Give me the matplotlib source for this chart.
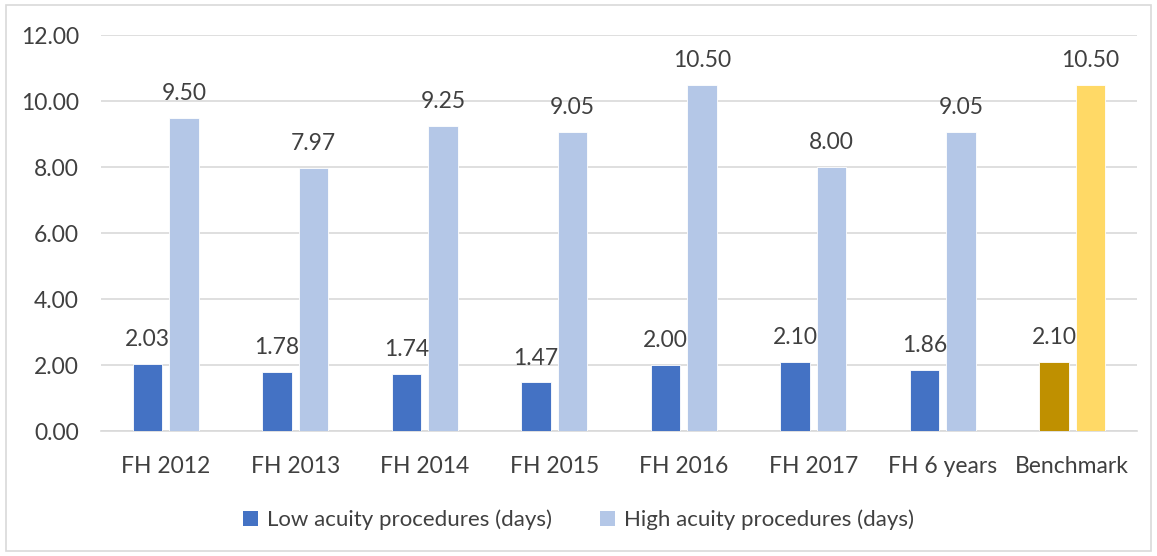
import matplotlib
matplotlib.use("Agg")
import matplotlib.pyplot as plt
import numpy as np
from matplotlib.patches import Rectangle, Patch

categories = ["FH 2012", "FH 2013", "FH 2014", "FH 2015", "FH 2016", "FH 2017", "FH 6 years", "Benchmark"]
low_acuity = [2.03, 1.78, 1.74, 1.47, 2.00, 2.10, 1.86, 2.10]
high_acuity = [9.50, 7.97, 9.25, 9.05, 10.50, 8.00, 9.05, 10.50]
series_names = ["Low acuity procedures (days)", "High acuity procedures (days)"]
yticks = [0, 2, 4, 6, 8, 10, 12]

plt.rcParams['font.family'] = ['Lato', 'DejaVu Sans']
txt = '#404040'

low_colors = ['#4472C4'] * 7 + ['#BF9000']
high_colors = ['#B4C7E7'] * 7 + ['#FFD966']

fig = plt.figure(figsize=(11.57, 5.56), dpi=100)
ax = fig.add_axes([101/1157, 1 - 431/556, (1137-101)/1157, (431-35)/556])

x = np.arange(len(categories))
w = 0.23
off = 0.141
b1 = ax.bar(x - off, low_acuity, w, color=low_colors, edgecolor='white', linewidth=0.6, zorder=3)
b2 = ax.bar(x + off, high_acuity, w, color=high_colors, edgecolor='white', linewidth=0.6, zorder=3)

for rect, v in zip(b1, low_acuity):
    ax.text(rect.get_x() + rect.get_width()/2, v + 0.42, f"{v:.2f}", ha='center', va='bottom', fontsize=16.5, color=txt)
for rect, v in zip(b2, high_acuity):
    ax.text(rect.get_x() + rect.get_width()/2, v + 0.42, f"{v:.2f}", ha='center', va='bottom', fontsize=16.5, color=txt)

ax.set_xlim(-0.5, len(categories) - 0.5)
ax.set_ylim(0, 12)
ax.set_yticks(yticks)
ax.set_yticklabels([f"{t:.2f}" for t in yticks], fontsize=16.5, color=txt)
ax.set_xticks(x)
ax.set_xticklabels(categories, fontsize=16.5, color=txt)
ax.tick_params(axis='both', length=0)
ax.tick_params(axis='y', pad=16)
ax.tick_params(axis='x', pad=18)
ax.grid(axis='y', color='#D9D9D9', linewidth=1.2, zorder=0)
for s in ['top', 'right', 'left']:
    ax.spines[s].set_visible(False)
ax.spines['bottom'].set_color('#D9D9D9')
ax.spines['bottom'].set_linewidth(1.2)

handles = [Patch(facecolor='#4472C4'), Patch(facecolor='#B4C7E7')]
fig.legend(handles, series_names, loc='center', bbox_to_anchor=(0.5, 1 - 520/556), ncol=2,
           frameon=False, fontsize=16, labelcolor=txt, handlelength=0.65, handleheight=0.65,
           columnspacing=2.2, handletextpad=0.4)

fig.add_artist(Rectangle((6/1157, 1 - 551/556), 1145/1157, 546/556, transform=fig.transFigure,
                         fill=False, edgecolor='#D9D9D9', linewidth=1.2))

fig.savefig("out.png", dpi=100)
